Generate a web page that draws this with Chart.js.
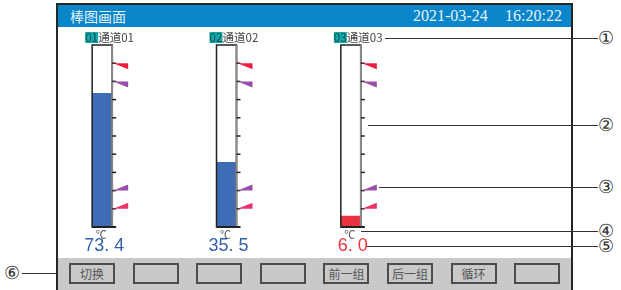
<!DOCTYPE html>
<html>
<head>
<meta charset="utf-8">
<script src="https://cdn.jsdelivr.net/npm/chart.js@4.4.0/dist/chart.umd.min.js"></script>
<style>
body{margin:0;width:621px;height:290px;overflow:hidden;background:#fff;position:relative;font-family:"Noto Sans CJK SC",sans-serif}
.abs{position:absolute}
#moldura{left:56px;top:3px;width:517px;height:300px;border:2px solid #262626;box-sizing:border-box}
#barra_titulo{left:58px;top:5px;width:513px;height:22px;background:#0886c9}
#titulo{left:70px;top:5px;line-height:22px;font-size:14px;color:#e8f3fa;font-family:"Noto Sans CJK SC",serif}
.data{top:5px;line-height:22px;font-size:16px;color:#e8f3fa;font-family:"Liberation Serif",serif;white-space:nowrap}
#barra_botoes{left:58px;top:258px;width:513px;height:40px;background:#c9c9c9}
.botao{top:263px;width:46px;height:21px;border:2px solid #4c4c4c;box-sizing:border-box;font-size:12px;line-height:17px;text-align:center;color:#555}
.linha{height:1px;background:#333}
.num{font-size:18px;line-height:18px;color:#333;font-family:"DejaVu Serif",serif}
#grafico{left:0;top:0}
</style>
</head>
<body>
<div class="abs" id="moldura"></div>
<div class="abs" id="barra_titulo"></div>
<div class="abs" id="titulo">棒图画面</div>
<div class="abs data" style="left:413px">2021-03-24</div>
<div class="abs data" style="left:462px;width:100px;text-align:right">16:20:22</div>
<div class="abs" id="barra_botoes"></div>
<div id="botoes"></div>
<div id="notas"></div>
<canvas class="abs" id="grafico" width="621" height="290"></canvas>

<script>
// dados do棒图
const canais = ['通道01', '通道02', '通道03'];
const ids = ['01', '02', '03'];
const valores = [73.4, 35.5, 6.0];
const cores = ['#3e6cb5', '#3e6cb5', '#ea3340'];
const cores_texto = ['#3560ad', '#3560ad', '#ee3340'];
const cheio = [100, 100, 100];
const alarme_hh = [90, 90, 90];
const alarme_h = [80, 80, 80];
const alarme_l = [20, 20, 20];
const alarme_ll = [10, 10, 10];
const marcas = [10, 20, 30, 40, 50, 60, 70, 80, 90];
const unidade = '℃';
const botoes = ['切换', '', '', '', '前一组', '后一组', '循环', ''];

// botoes de baixo
var div_botoes = document.getElementById('botoes');
for (var i = 0; i < botoes.length; i++) {
    var b = document.createElement('div');
    b.className = 'abs botao';
    b.style.left = (69 + i * 63.6) + 'px';
    b.textContent = botoes[i];
    div_botoes.appendChild(b);
}

// linhas de anotacao
const notas = [
    ['①', 385, 38],
    ['②', 368, 125],
    ['③', 379, 187],
    ['④', 361, 231],
    ['⑤', 367, 246]
];
var div_notas = document.getElementById('notas');
for (var i = 0; i < notas.length; i++) {
    var l = document.createElement('div');
    l.className = 'abs linha';
    l.style.left = notas[i][1] + 'px';
    l.style.top = notas[i][2] + 'px';
    l.style.width = (598 - notas[i][1]) + 'px';
    div_notas.appendChild(l);
    var n = document.createElement('div');
    n.className = 'abs num';
    n.style.left = '598px';
    n.style.top = (notas[i][2] - 9) + 'px';
    n.textContent = notas[i][0];
    div_notas.appendChild(n);
}
var l6 = document.createElement('div');
l6.className = 'abs linha';
l6.style.left = '22px'; l6.style.top = '273px'; l6.style.width = '34px';
div_notas.appendChild(l6);
var n6 = document.createElement('div');
n6.className = 'abs num';
n6.style.left = '4px'; n6.style.top = '264px';
n6.textContent = '⑥';
div_notas.appendChild(n6);

function marcador(ctx, x, y, cor, para_baixo) {
    ctx.fillStyle = cor;
    ctx.beginPath();
    ctx.moveTo(x, y);
    ctx.lineTo(x + 15, y);
    ctx.lineTo(x + 15, para_baixo ? y + 6 : y - 6);
    ctx.closePath();
    ctx.fill();
}

const desenho = {
    id: 'desenho',
    afterDatasetsDraw(chart) {
        const ctx = chart.ctx;
        const y = chart.scales.y;
        const meta = chart.getDatasetMeta(1);
        const topo = y.getPixelForValue(100);
        const base = y.getPixelForValue(0);
        ctx.save();
        for (var i = 0; i < canais.length; i++) {
            const bar = meta.data[i];
            const esq = bar.x - bar.width / 2;
            const dir = bar.x + bar.width / 2;

            // contorno
            ctx.strokeStyle = '#222';
            ctx.lineWidth = 1.5;
            ctx.strokeRect(esq, topo, bar.width, base - topo);

            // regua
            ctx.strokeStyle = '#8a8a8a';
            ctx.lineWidth = 2;
            ctx.beginPath();
            ctx.moveTo(dir, topo);
            ctx.lineTo(dir, base);
            ctx.stroke();

            ctx.strokeStyle = '#222';
            ctx.lineWidth = 1.5;
            for (var k = 0; k < marcas.length; k++) {
                const yy = y.getPixelForValue(marcas[k]);
                ctx.beginPath();
                ctx.moveTo(dir, yy);
                ctx.lineTo(dir + 4, yy);
                ctx.stroke();
            }
            ctx.lineWidth = 2;
            ctx.beginPath();
            ctx.moveTo(esq, base);
            ctx.lineTo(dir + 4, base);
            ctx.stroke();

            // alarmes
            marcador(ctx, dir + 1, y.getPixelForValue(alarme_hh[i]), '#ee1d3f', true);
            marcador(ctx, dir + 1, y.getPixelForValue(alarme_h[i]), '#9a4ea8', true);
            marcador(ctx, dir + 1, y.getPixelForValue(alarme_l[i]), '#9a4ea8', false);
            marcador(ctx, dir + 1, y.getPixelForValue(alarme_ll[i]), '#e8336b', false);

            // nome do canal
            ctx.font = '11.5px "Noto Sans CJK SC"';
            ctx.textBaseline = 'middle';
            ctx.textAlign = 'left';
            ctx.fillStyle = '#15a8a8';
            ctx.fillRect(esq - 7, 32, 13, 11);
            ctx.fillStyle = '#0c4c50';
            ctx.fillText(ids[i], esq - 7, 38);
            ctx.fillStyle = '#444';
            ctx.fillText(canais[i], esq + 6, 38);

            // unidade e valor
            ctx.textAlign = 'center';
            ctx.font = '11px "Noto Sans CJK SC"';
            ctx.fillStyle = '#555';
            ctx.fillText(unidade, bar.x - 1, base + 8);
            ctx.font = '18px "Liberation Sans"';
            ctx.fillStyle = cores_texto[i];
            ctx.fillText(valores[i].toFixed(1).replace('.', '. '), bar.x + 2, base + 19);
        }
        ctx.restore();
    }
};

new Chart(document.getElementById('grafico'), {
    type: 'bar',
    data: {
        labels: canais,
        datasets: [{
            data: valores,
            backgroundColor: cores,
            barThickness: 20,
            grouped: false
        }, {
            data: cheio,
            backgroundColor: '#fff',
            barThickness: 20,
            grouped: false
        }]
    },
    options: {
        responsive: false,
        animation: false,
        layout: { padding: { left: 40, right: 208, top: 45, bottom: 63 } },
        plugins: { legend: { display: false }, tooltip: { enabled: false } },
        scales: {
            x: { display: false },
            y: { display: false, min: 0, max: 100 }
        }
    },
    plugins: [desenho]
});
</script>
</body>
</html>
